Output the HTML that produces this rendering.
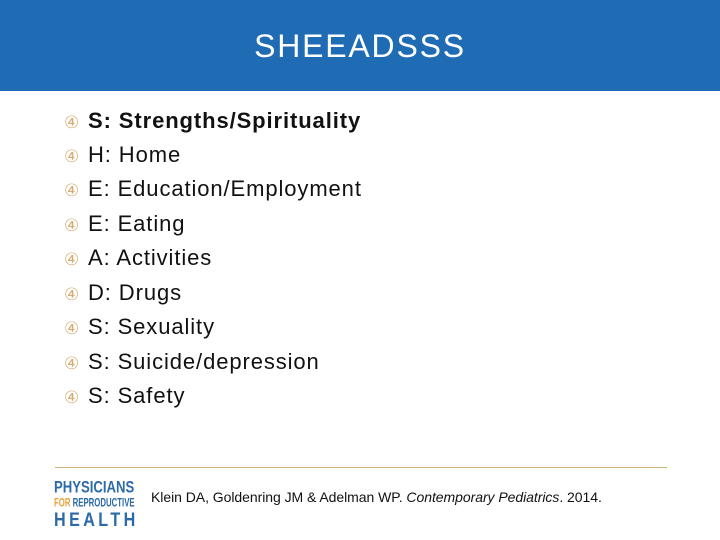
<!DOCTYPE html>
<html><head><meta charset="utf-8"><style>
body{margin:0;width:720px;height:540px;background:#fff;position:relative;overflow:hidden;font-family:"Liberation Sans",sans-serif}
.hdr{position:absolute;left:0;top:0;width:720px;height:91px;background:#1f6cb4}
.title{position:absolute;left:0;width:720px;top:28px;text-align:center;color:#fff;font-size:32px;letter-spacing:1.8px}
.item{position:absolute;left:64px;font-size:22px;color:#111;line-height:24px;white-space:nowrap;letter-spacing:0.9px}
.item span.b{color:#d4ad72;font-size:17px;display:inline-block;width:24px;letter-spacing:0}
.rule{position:absolute;left:55px;top:467px;width:612px;height:1px;background:#cdb27a}
.logo{position:absolute;left:54px;top:480px;color:#2b6aa8;font-weight:bold;line-height:1;width:80px}
.logo div{transform-origin:top left;white-space:nowrap}
.cite{position:absolute;left:151px;top:489px;font-size:14px;color:#111;letter-spacing:-0.05px}
</style></head><body>
<div class="hdr"></div>
<div class="title">SHEEADSSS</div>
<div class="item" style="top:109px;font-weight:bold"><span class="b" style="font-weight:normal">④</span>S: Strengths/Spirituality</div>
<div class="item" style="top:143px"><span class="b">④</span>H: Home</div>
<div class="item" style="top:177px"><span class="b">④</span>E: Education/Employment</div>
<div class="item" style="top:212px"><span class="b">④</span>E: Eating</div>
<div class="item" style="top:246px"><span class="b">④</span>A: Activities</div>
<div class="item" style="top:281px"><span class="b">④</span>D: Drugs</div>
<div class="item" style="top:315px"><span class="b">④</span>S: Sexuality</div>
<div class="item" style="top:350px"><span class="b">④</span>S: Suicide/depression</div>
<div class="item" style="top:384px"><span class="b">④</span>S: Safety</div>
<div class="rule"></div>
<div class="logo">
<div style="font-size:16px;transform:scale(0.82,1.05)">PHYSICIANS</div>
<div style="font-size:10px;margin-top:2px;transform:scale(0.78,1.2)"><span style="color:#e8a33a">FOR</span> REPRODUCTIVE</div>
<div style="font-size:19px;letter-spacing:4px;margin-top:3px;transform:scale(0.85,1)">HEALTH</div>
</div>
<div class="cite">Klein DA, Goldenring JM &amp; Adelman WP. <i>Contemporary Pediatrics</i>. 2014.</div>
</body></html>
